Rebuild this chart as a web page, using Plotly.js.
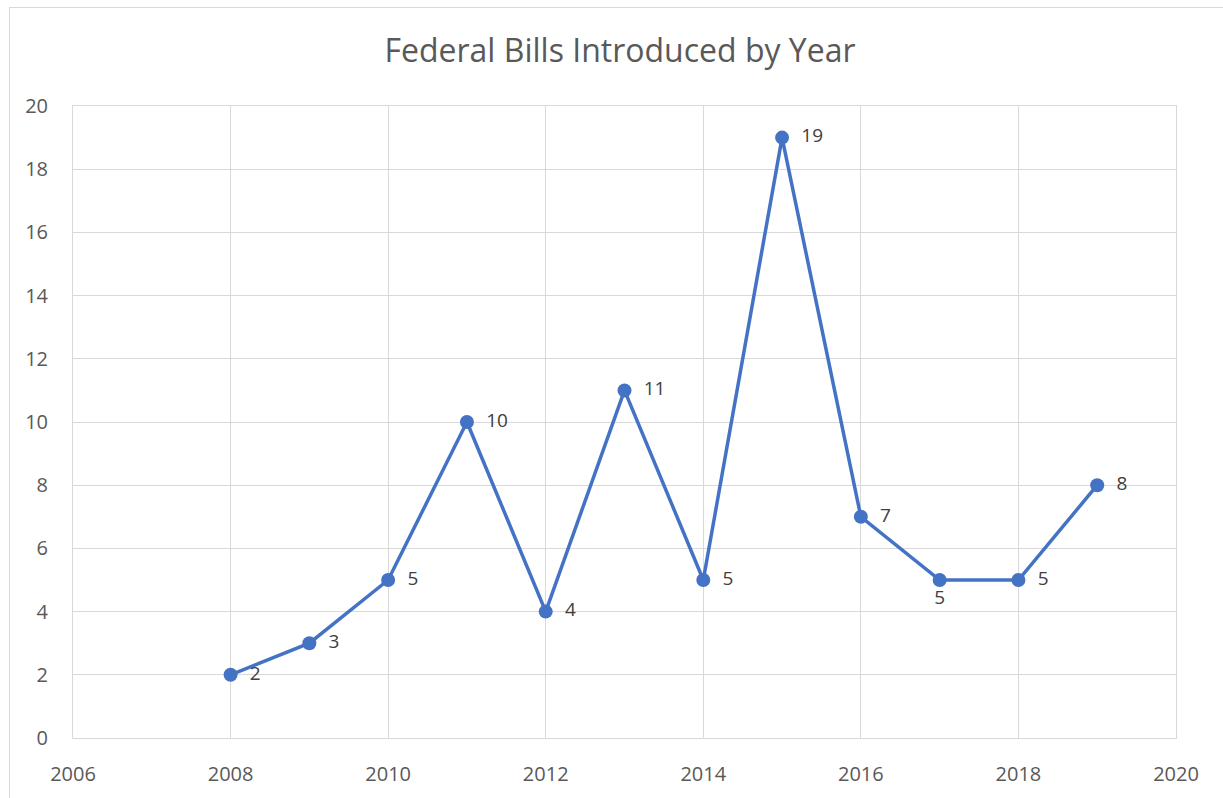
<!DOCTYPE html>
<html>
<head>
<meta charset="utf-8">
<script src="https://cdn.plot.ly/plotly-3.0.1.min.js"></script>
<style>
  html, body { margin: 0; padding: 0; background: #ffffff; overflow: hidden; }
  #frame { position: absolute; left: 9px; top: 7px; width: 1400px; height: 1000px; border: 1px solid #d9d9d9; box-sizing: border-box; }
  #chart { position: absolute; left: 0; top: 0; width: 1223px; height: 798px; }
</style>
</head>
<body>
<div id="frame"></div>
<div id="chart"></div>
<script>
const years = [2008, 2009, 2010, 2011, 2012, 2013, 2014, 2015, 2016, 2017, 2018, 2019];
const bills = [2, 3, 5, 10, 4, 11, 5, 19, 7, 5, 5, 8];
const labelPositions = ['middle right','middle right','middle right','middle right','middle right','middle right','middle right','middle right','middle right','bottom center','middle right','middle right'];

const trace = {
  x: years,
  y: bills,
  type: 'scatter',
  mode: 'lines+markers+text',
  text: bills.map(v => '\u2002' + String(v) + '\u2002'),
  textposition: labelPositions,
  textfont: { family: 'Open Sans, sans-serif', size: 19, color: '#404040' },
  line: { color: '#4472C4', width: 3.5 },
  marker: { color: '#4472C4', size: 14 },
  cliponaxis: false,
  hoverinfo: 'x+y'
};

const layout = {
  width: 1223,
  height: 798,
  paper_bgcolor: 'rgba(0,0,0,0)',
  plot_bgcolor: 'rgba(0,0,0,0)',
  margin: { l: 73, r: 47, t: 106, b: 60 },
  showlegend: false,
  title: {
    text: 'Federal Bills Introduced by Year',
    font: { family: 'Open Sans, sans-serif', size: 32, color: '#595959' },
    x: 620 / 1223, xanchor: 'center',
    y: 1 - 51 / 798, yanchor: 'middle', yref: 'container'
  },
  xaxis: {
    range: [2006, 2020],
    dtick: 2,
    tick0: 2006,
    showgrid: true,
    gridcolor: '#d9d9d9',
    gridwidth: 1,
    showline: true,
    linecolor: '#d9d9d9',
    linewidth: 1,
    mirror: true,
    zeroline: false,
    ticks: '',
    ticklabelstandoff: 18,
    tickfont: { family: 'Open Sans, sans-serif', size: 20, color: '#595959' }
  },
  yaxis: {
    range: [0, 20],
    dtick: 2,
    showgrid: true,
    gridcolor: '#d9d9d9',
    gridwidth: 1,
    showline: true,
    linecolor: '#d9d9d9',
    linewidth: 1,
    mirror: true,
    zeroline: false,
    ticks: '',
    ticklabelstandoff: 20,
    tickfont: { family: 'Open Sans, sans-serif', size: 20, color: '#595959' }
  }
};

Plotly.newPlot('chart', [trace], layout, { displayModeBar: false, staticPlot: true });
</script>
</body>
</html>
